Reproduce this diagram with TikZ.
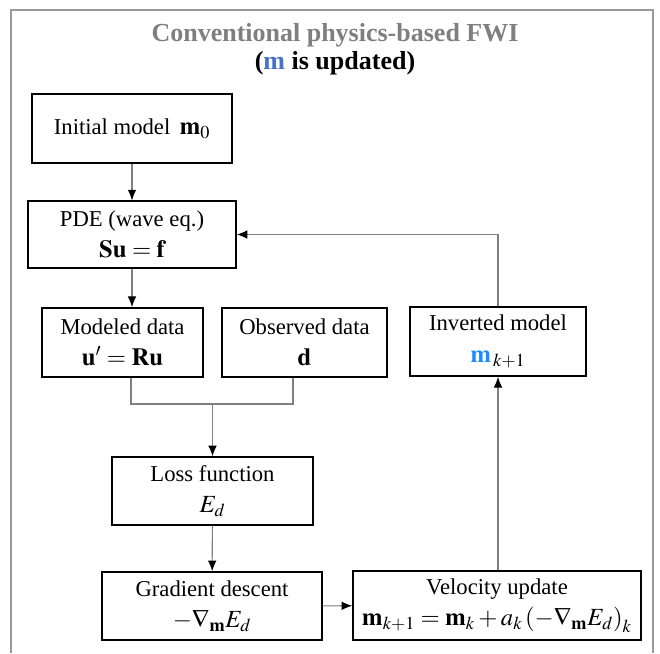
\documentclass[tikz,border=0pt]{standalone}
\usepackage{amsmath}
\usepackage{amssymb}
\usepackage{mathptmx}
\usepackage[no-math]{fontspec}
\setmainfont{Liberation Serif}
\usepackage{tikz}
\usetikzlibrary{arrows.meta}

\definecolor{titlegray}{HTML}{7F7F7F}
\definecolor{mblue}{HTML}{4472C4}
\definecolor{invblue}{HTML}{1A8CFF}

% larger second line with the formula
\newcommand{\eqline}[1]{{\fontsize{18.5}{22}\selectfont$#1$}}

\begin{document}
\begin{tikzpicture}[x=0.75pt,y=-0.75pt,
    box/.style={draw=black,line width=1.1pt,align=center,inner sep=2pt,
        font=\fontsize{17}{22.5}\selectfont},
    line/.style={draw=gray,line width=0.8pt},
    arr/.style={line,-{Latex[black,length=8pt,width=6.5pt]}},
    title/.style={font=\fontsize{19.5}{22}\selectfont\bfseries}]
    \useasboundingbox (0,0) rectangle (660,653);

    % Frame
    \draw[gray!80,line width=1.6pt] (11,653) -- (11,10) -- (653,10) -- (653,653);

    % Title
    \node[title,text=titlegray] (t1) at (335,35) {Conventional physics-based FWI};
    \node[title] (t2) at (335,63) {(\textcolor{mblue}{m} is updated)};

    % Boxes
    \node[box,minimum width=150pt,minimum height=51.75pt] (init) at (132,128.5)
        {Initial model\, \eqline{\mathbf{m}_0}};
    \node[box,minimum width=156pt,minimum height=50pt] (pde) at (132,234.5)
        {PDE (wave eq.)\\[1pt] \eqline{\mathbf{Su}=\mathbf{f}}};
    \node[box,minimum width=121pt,minimum height=52pt] (mod) at (122.5,342.5)
        {Modeled data\\[1pt] \eqline{\mathbf{u}'=\mathbf{Ru}}};
    \node[box,minimum width=124pt,minimum height=52pt] (obs) at (304.5,342.5)
        {Observed data\\[1pt] \eqline{\mathbf{d}}};
    \node[box,minimum width=132pt,minimum height=52pt] (inv) at (498,341.5)
        {Inverted model\\[1pt] \eqline{\textcolor{invblue}{\mathbf{m}}_{\,k+1}}};
    \node[box,minimum width=151pt,minimum height=51pt] (loss) at (212.5,491)
        {Loss function\\[1pt] \eqline{E_d}};
    \node[box,minimum width=165pt,minimum height=51pt] (grad) at (212,606)
        {Gradient descent\\[1pt] \eqline{-\nabla_{\mathbf{m}}E_d}};
    \node[box,minimum width=216pt,minimum height=52pt] (vel) at (497,605.5)
        {Velocity update\\[1pt] \eqline{\mathbf{m}_{k+1}=\mathbf{m}_k+a_k\left(-\nabla_{\mathbf{m}}E_d\right)_k}};

    % Joint of modeled and observed data
    \coordinate (jl) at (131,404);
    \coordinate (jr) at (293,404);
    \coordinate (jm) at (212.5,404);

    % Connectors
    \draw[arr] (init) -- (pde);
    \draw[arr] (pde.south) -- (pde.south |- mod.north);
    \draw[line] (mod.south -| jl) -- (jl) -- (jr) -- (obs.south -| jr);
    \draw[arr] (jm) -- (loss);
    \draw[arr] (loss) -- (grad);
    \draw[arr] (grad) -- (vel);
    \draw[arr] (vel.north -| inv) -- (inv.south);
    \draw[arr] (inv.north) |- (pde.east);
\end{tikzpicture}
\end{document}
